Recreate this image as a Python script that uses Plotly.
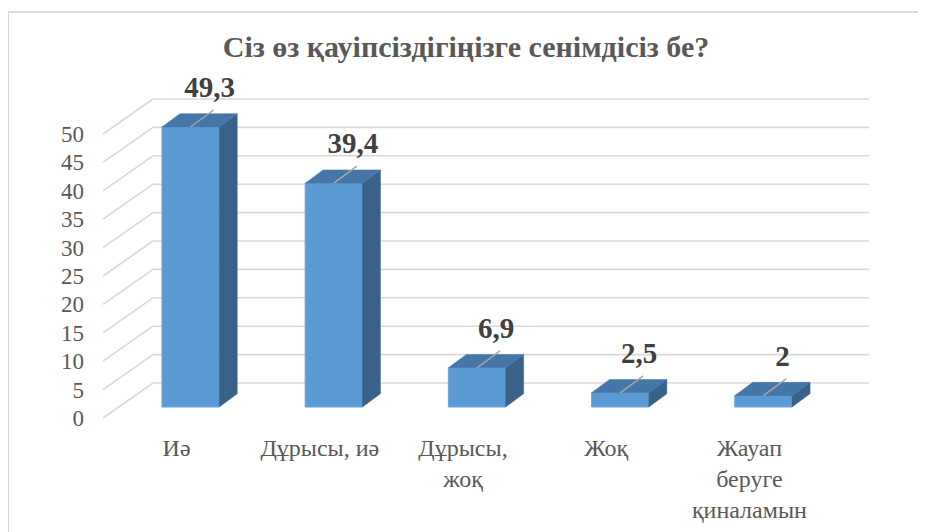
import plotly.graph_objects as go

# ---------------- data ----------------
categories = ["Иә", "Дұрысы, иә", "Дұрысы,<br>жоқ", "Жоқ", "Жауап<br>беруге<br>қиналамын"]
values = [49.3, 39.4, 6.9, 2.5, 2.0]
value_labels = ["49,3", "39,4", "6,9", "2,5", "2"]
y_ticks = [0, 5, 10, 15, 20, 25, 30, 35, 40, 45, 50]
title_text = "Сіз өз қауіпсіздігіңізге сенімдісіз бе?"

# ---------------- geometry ----------------
W, H = 926, 532
OFF = 8                 # page body margin in the browser
PX_PER_CAT = 143.2
PX_PER_UNIT = 5.68
WALL_X0 = 224.6 - OFF
WALL_Y0 = 383.0 - OFF


def dx(px):
    return px / PX_PER_CAT


def dy(px):
    return px / PX_PER_UNIT


x_range = [-WALL_X0 / PX_PER_CAT, (W - WALL_X0) / PX_PER_CAT]
y_range = [(WALL_Y0 - H) / PX_PER_UNIT, WALL_Y0 / PX_PER_UNIT]

idx = list(range(len(categories)))
wall_left, wall_right = -0.5, len(categories) - 0.5

floor_dx, floor_dy = dx(-50), dy(-35)
front_dx, front_dy = dx(-34), dy(-24)
depth_dx, depth_dy = dx(18), dy(13.3)
bar_w = 0.4

GRID = "#D9D9D9"
FRONT = "#5B9BD5"
TOP = "#4576A8"
SIDE = "#3A6288"
TXT = "#595959"
FONT = "Liberation Serif, Tinos, Times New Roman, DejaVu Serif, serif"

fig = go.Figure()

shapes = []
for t in y_ticks:
    shapes.append(dict(type="line", xref="x", yref="y", x0=wall_left, x1=wall_right, y0=t, y1=t,
                       line=dict(color=GRID, width=1.6), layer="below"))
    shapes.append(dict(type="line", xref="x", yref="y", x0=wall_left + floor_dx, x1=wall_left,
                       y0=t + floor_dy, y1=t, line=dict(color=GRID, width=1.6), layer="below"))

sx, sy, tx, ty = [], [], [], []
for i, v in zip(idx, values):
    xl = i + front_dx - bar_w / 2
    xr = xl + bar_w
    b = front_dy
    t = front_dy + v
    sx += [xr, xr, xr + depth_dx, xr + depth_dx, xr, None]
    sy += [b, t, t + depth_dy, b + depth_dy, b, None]
    tx += [xl, xr, xr + depth_dx, xl + depth_dx, xl, None]
    ty += [t, t, t + depth_dy, t + depth_dy, t, None]

fig.add_trace(go.Bar(x=idx, y=values, base=front_dy, width=bar_w,
                     offset=front_dx - bar_w / 2,
                     marker=dict(color=FRONT, line=dict(color="#6AA6DC", width=1)),
                     hoverinfo="skip", showlegend=False))
fig.add_trace(go.Scatter(x=sx, y=sy, mode="lines", fill="toself", fillcolor=SIDE,
                         line=dict(color=SIDE, width=0.5), hoverinfo="skip", showlegend=False))
fig.add_trace(go.Scatter(x=tx, y=ty, mode="lines", fill="toself", fillcolor=TOP,
                         line=dict(color=TOP, width=0.5), hoverinfo="skip", showlegend=False))

lx, ly = [], []
for i, v in zip(idx, values):
    x0 = i + front_dx
    y0 = front_dy + v
    lx += [x0, x0 + dx(23), None]
    ly += [y0, y0 + dy(17), None]
fig.add_trace(go.Scatter(x=lx, y=ly, mode="lines", line=dict(color="#A6A6A6", width=1.5),
                         hoverinfo="skip", showlegend=False))

fig.add_trace(go.Scatter(
    x=[i + front_dx + dx(19) for i in idx],
    y=[front_dy + v + dy(37) for v in values],
    mode="text", text=value_labels, textposition="middle center",
    textfont=dict(family=FONT, size=29, color="#404040", weight="bold"),
    hoverinfo="skip", showlegend=False, cliponaxis=False))

fig.update_layout(
    width=W, height=H,
    margin=dict(l=0, r=0, t=0, b=0),
    paper_bgcolor="white", plot_bgcolor="white",
    showlegend=False,
    title=dict(text=title_text, x=(466 - OFF) / W, xanchor="center",
               y=1 - (46 - OFF) / H, yanchor="middle",
               font=dict(family=FONT, size=30, color=TXT, weight="bold")),
    xaxis=dict(range=x_range, domain=[0, 1], showgrid=False, zeroline=False, showline=False,
               tickmode="array", tickvals=idx, ticktext=categories, ticks="",
               ticklabelshift=-48, anchor="free", position=(H - (431 - OFF)) / H,
               tickfont=dict(family=FONT, size=24, color=TXT), fixedrange=True),
    yaxis=dict(range=y_range, domain=[0, 1], showgrid=False, zeroline=False, showline=False,
               tickmode="array", tickvals=y_ticks, ticktext=[str(t) for t in y_ticks], ticks="",
               ticklabelshift=35, ticklabelstandoff=19, anchor="free",
               position=(103 - OFF) / W,
               tickfont=dict(family=FONT, size=23, color=TXT), fixedrange=True),
    shapes=shapes + [dict(type="rect", xref="paper", yref="paper", x0=0, x1=1.05,
                          y0=-0.05, y1=1 - (12 - OFF) / H, line=dict(color="#D9D9D9", width=2),
                          fillcolor="rgba(0,0,0,0)", layer="below")],
)

fig.write_html("out.html")
